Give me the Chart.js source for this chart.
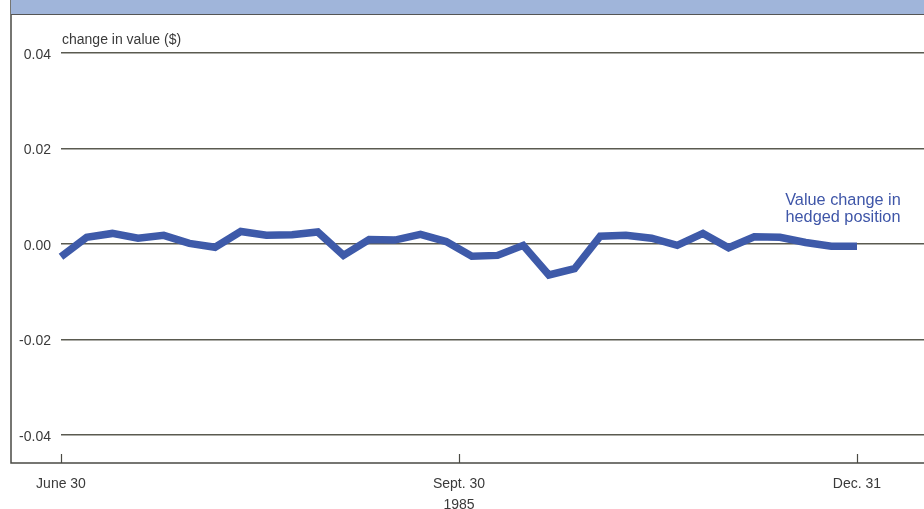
<!DOCTYPE html>
<html>
<head>
<meta charset="utf-8">
<script src="https://cdn.jsdelivr.net/npm/chart.js@4/dist/chart.umd.min.js"></script>
<style>
  body { margin: 0; background: #fff; }
  #wrap { position: relative; width: 924px; height: 509px; overflow: hidden; font-family: "Liberation Sans", Arial, sans-serif; }
  #canvas { position: absolute; left: 0; top: 0; }
  #banner { position: absolute; left: 11px; top: 0; width: 913px; height: 14px; background: #a0b5da; border-bottom: 1.5px solid #555; }
  #caption { position: absolute; left: 62px; top: 31px; font-size: 14px; color: #3a3a3a; }
  #note { position: absolute; left: 767px; top: 191px; width: 152px; text-align: center; font-size: 16.3px; line-height: 17px; color: #3f56a8; }
</style>
</head>
<body>
<div id="wrap">
  <canvas id="canvas" width="924" height="509"></canvas>
  <div id="banner"></div>
  <div id="caption">change in value ($)</div>
  <div id="note">Value change in<br>hedged position</div>
</div>
<script>
// value change in hedged position, one reading per observation, June 30 - Dec. 31, 1985
const values = [
  -0.0027, 0.0014, 0.0022, 0.0012, 0.0018, 0.0001, -0.0007, 0.0026, 0.0018, 0.0019, 0.0025,
  -0.0024, 0.0009, 0.0008, 0.0020, 0.0005, -0.0026, -0.0024, -0.0003, -0.0065, -0.0052,
  0.0016, 0.0018, 0.0012, -0.0003, 0.0022, -0.0008, 0.0015, 0.0014, 0.0003, -0.0005, -0.0005
]
const tickIndex = [0, 15.5, 31]
const tickLabels = [["June 30"], ["Sept. 30", "1985"], ["Dec. 31"]]
const yTicks = [0.04, 0.02, 0, -0.02, -0.04]

const frame = {
  id: "frame",
  afterDraw(chart) {
    const c = chart.ctx
    const area = chart.chartArea
    const x = chart.scales.x
    c.save()
    c.strokeStyle = "#4a4a44"
    c.lineWidth = 1.5
    c.beginPath()
    c.moveTo(11, 0)
    c.lineTo(11, area.bottom)
    c.lineTo(chart.width, area.bottom)
    c.stroke()
    c.lineWidth = 1.2
    for (const v of tickIndex) {
      const px = Math.round(x.getPixelForValue(v)) + 0.5
      c.beginPath()
      c.moveTo(px, area.bottom - 9)
      c.lineTo(px, area.bottom)
      c.stroke()
    }
    c.restore()
  }
}

new Chart(document.getElementById("canvas"), {
  type: "line",
  data: {
    datasets: [{
      data: values.map((v, i) => ({ x: i, y: v })),
      borderColor: "#3e5aa9",
      borderWidth: 7.5,
      pointRadius: 0,
      tension: 0,
      clip: false
    }]
  },
  options: {
    responsive: false,
    devicePixelRatio: 1,
    animation: false,
    layout: { padding: { top: 53, right: 0, left: 0, bottom: 0 } },
    plugins: { legend: { display: false }, tooltip: { enabled: false } },
    scales: {
      x: {
        type: "linear",
        min: 0,
        max: 33.61,
        afterBuildTicks: scale => { scale.ticks = tickIndex.map(v => ({ value: v })) },
        afterFit: scale => { scale.height = 46 },
        grid: { display: false },
        border: { display: false },
        ticks: {
          autoSkip: false,
          maxRotation: 0,
          padding: 3,
          color: "#3a3a3a",
          font: { family: "'Liberation Sans', Arial, sans-serif", size: 14, lineHeight: 1.5 },
          callback: (value, index) => tickLabels[index]
        }
      },
      y: {
        min: -0.0459,
        max: 0.04,
        afterBuildTicks: scale => { scale.ticks = yTicks.map(v => ({ value: v })) },
        afterFit: scale => { scale.width = 61 },
        grid: { color: "#5a5a50", lineWidth: 1.5, drawTicks: false },
        border: { display: false },
        ticks: {
          padding: 10,
          labelOffset: 2,
          color: "#3a3a3a",
          font: { family: "'Liberation Sans', Arial, sans-serif", size: 14 },
          callback: v => v.toFixed(2)
        }
      }
    }
  },
  plugins: [frame]
})
</script>
</body>
</html>
